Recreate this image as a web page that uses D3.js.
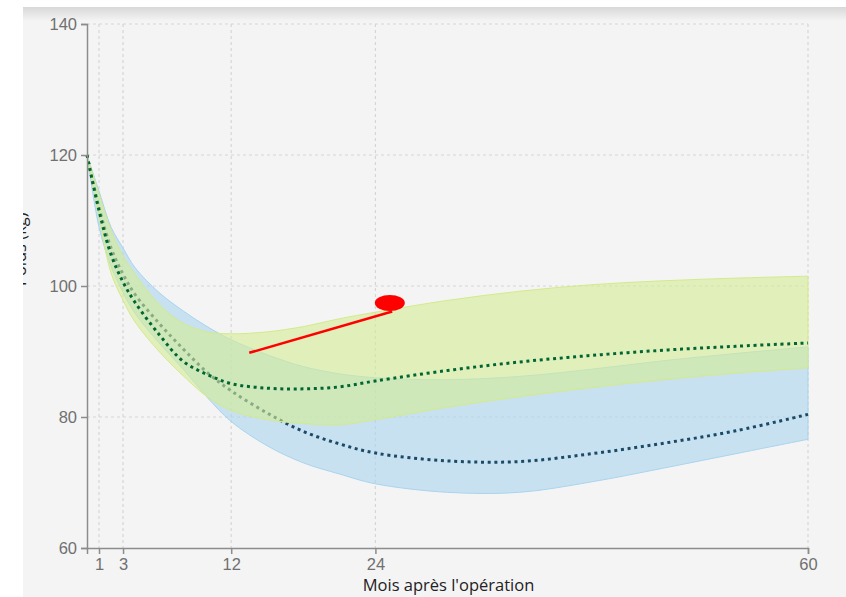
<!DOCTYPE html>
<html>
<head>
<meta charset="utf-8">
<script src="https://cdn.jsdelivr.net/npm/d3@7"></script>
<style>
  body { margin: 0; background: #fff; }
  svg { display: block; font-family: "Open Sans", "Noto Sans", sans-serif; }
  .tick text { fill: #707070; font-size: 16.5px; }
  .axis path, .axis line { stroke: #8c8c8c; stroke-width: 1.5; }
  .grid line { stroke: #d6d6d6; stroke-width: 1.2; stroke-dasharray: 3,3; }
  .axis-label { fill: #222; font-size: 16.5px; }
</style>
</head>
<body>
<svg id="chart"></svg>
<script>
// months after surgery
const months = [0, 1, 2, 3, 4, 6, 8, 10, 12, 15, 18, 21, 24, 30, 36, 42, 48, 54, 60];

// green band (expected range) and its median
const greenUpper  = [120, 114, 108.5, 104.6, 101.8, 97.2, 94.3, 93.0, 92.7, 93.0, 93.8, 95.0, 96.0, 97.8, 99.2, 100.2, 100.8, 101.2, 101.5];
const greenMedian = [120, 111.5, 104.8, 100.6, 97.5, 92.6, 88.5, 86.5, 85.1, 84.4, 84.3, 84.6, 85.5, 87.1, 88.4, 89.4, 90.2, 90.8, 91.3];
const greenLower  = [120, 110.5, 102, 97.8, 94.5, 90.0, 86.3, 83.1, 81.0, 79.6, 79.0, 78.8, 79.6, 81.5, 83.1, 84.5, 85.7, 86.7, 87.5];

// blue band and its median
const blueUpper  = [120, 114.5, 109, 105.8, 102.8, 99.0, 96.2, 93.8, 91.8, 89.5, 87.7, 86.6, 86.0, 85.7, 86.2, 87.3, 88.6, 89.7, 90.7];
const blueMedian = [120, 112, 105.8, 101.8, 98.7, 94.3, 90.4, 86.8, 84.0, 80.6, 77.8, 75.9, 74.5, 73.3, 73.2, 74.4, 76.0, 77.9, 80.4];
const blueLower  = [120, 109, 103, 99, 95.8, 91.3, 87.3, 83.0, 79.3, 75.6, 73.0, 71.3, 69.8, 68.5, 68.5, 70.1, 72.2, 74.4, 76.6];

// patient track
const patientMonths = [13.5, 25.4];
const patientWeights = [89.8, 96.1];
const lastVisit = { month: 25.2, weight: 97.4 };

const xTicks = [1, 3, 12, 24, 60];
const yTicks = [60, 80, 100, 120, 140];

class WeightChart {

  constructor(_config) {
    this.config = {
      parentElement: _config.parentElement,
      containerWidth: 846,
      containerHeight: 597,
      margin: { top: 24, bottom: 49, right: 38, left: 87 }
    };
    this.initVis();
  }

  initVis() {
    let vis = this;

    vis.width = vis.config.containerWidth - vis.config.margin.left - vis.config.margin.right;
    vis.height = vis.config.containerHeight - vis.config.margin.top - vis.config.margin.bottom;

    vis.svg = d3.select(vis.config.parentElement)
        .attr('width', vis.config.containerWidth)
        .attr('height', vis.config.containerHeight);

    // grey panel with a soft shadow on top
    const defs = vis.svg.append('defs');
    const grad = defs.append('linearGradient')
        .attr('id', 'topShade')
        .attr('x1', 0).attr('x2', 0).attr('y1', 0).attr('y2', 1);
    grad.append('stop').attr('offset', '0%').attr('stop-color', '#d8d8d8');
    grad.append('stop').attr('offset', '100%').attr('stop-color', '#f4f4f4');

    defs.append('clipPath').attr('id', 'panelClip')
      .append('rect')
        .attr('x', 23).attr('y', 7)
        .attr('width', vis.config.containerWidth - 23)
        .attr('height', vis.config.containerHeight - 7);

    vis.svg.append('rect')
        .attr('x', 23).attr('y', 7)
        .attr('width', vis.config.containerWidth - 23)
        .attr('height', vis.config.containerHeight - 7)
        .attr('fill', '#f4f4f4');
    vis.svg.append('rect')
        .attr('x', 23).attr('y', 7)
        .attr('width', vis.config.containerWidth - 23)
        .attr('height', 14)
        .attr('fill', 'url(#topShade)');

    vis.chart = vis.svg.append('g')
        .attr('transform', `translate(${vis.config.margin.left},${vis.config.margin.top})`);

    vis.xScale = d3.scaleLinear()
        .domain([0, 60])
        .range([0, vis.width]);

    vis.yScale = d3.scaleLinear()
        .domain([60, 140])
        .range([vis.height, 0]);

    vis.gridG = vis.chart.append('g').attr('class', 'grid');
    vis.marksG = vis.chart.append('g');

    vis.xAxis = d3.axisBottom(vis.xScale).tickValues(xTicks).tickSizeOuter(0).tickSize(6).tickPadding(4);
    vis.yAxis = d3.axisLeft(vis.yScale).tickValues(yTicks).tickSizeOuter(0).tickSize(6).tickPadding(4);

    vis.xAxisG = vis.chart.append('g')
        .attr('class', 'axis x-axis')
        .attr('transform', `translate(0,${vis.height})`);
    vis.yAxisG = vis.chart.append('g')
        .attr('class', 'axis y-axis');

    vis.chart.append('text')
        .attr('class', 'axis-label')
        .attr('x', vis.width / 2 + 1)
        .attr('y', vis.height + 43)
        .style('text-anchor', 'middle')
        .text("Mois après l'opération");

    // y label is mostly hidden behind the panel edge
    vis.svg.append('g')
        .attr('clip-path', 'url(#panelClip)')
      .append('text')
        .attr('class', 'axis-label')
        .attr('transform', `translate(26,${vis.config.margin.top + vis.height / 2}) rotate(-90)`)
        .style('text-anchor', 'start')
        .text('Poids (kg)');

    vis.updateVis();
  }

  updateVis() {
    let vis = this;

    vis.green = months.map((m, i) => ({ m: m, lo: greenLower[i], mid: greenMedian[i], hi: greenUpper[i] }));
    vis.blue = months.map((m, i) => ({ m: m, lo: blueLower[i], mid: blueMedian[i], hi: blueUpper[i] }));
    vis.track = patientMonths.map((m, i) => ({ m: m, w: patientWeights[i] }));

    vis.renderVis();
  }

  renderVis() {
    let vis = this;

    vis.gridG.selectAll('.vgrid')
        .data(xTicks)
      .join('line')
        .attr('class', 'vgrid')
        .attr('x1', d => vis.xScale(d)).attr('x2', d => vis.xScale(d))
        .attr('y1', 0).attr('y2', vis.height);

    vis.gridG.selectAll('.hgrid')
        .data(yTicks.slice(1))
      .join('line')
        .attr('class', 'hgrid')
        .attr('x1', 0).attr('x2', vis.width)
        .attr('y1', d => vis.yScale(d)).attr('y2', d => vis.yScale(d));

    const smooth = d3.curveCatmullRom.alpha(0.5);

    const area = d3.area()
        .x(d => vis.xScale(d.m))
        .y0(d => vis.yScale(d.lo))
        .y1(d => vis.yScale(d.hi))
        .curve(smooth);

    const midLine = d3.line()
        .x(d => vis.xScale(d.m))
        .y(d => vis.yScale(d.mid))
        .curve(smooth);

    // blue band first, the green band sits over it
    vis.marksG.append('path')
        .datum(vis.blue)
        .attr('d', area)
        .attr('fill', '#a9d4ef')
        .attr('fill-opacity', 0.6)
        .attr('stroke', '#a9d4ef')
        .attr('stroke-width', 1);

    vis.marksG.append('path')
        .datum(vis.blue)
        .attr('d', midLine)
        .attr('fill', 'none')
        .attr('stroke', '#1b4a66')
        .attr('stroke-width', 3)
        .attr('stroke-dasharray', '3,3.7');

    vis.marksG.append('path')
        .datum(vis.green)
        .attr('d', area)
        .attr('fill', '#d4ec95')
        .attr('fill-opacity', 0.6)
        .attr('stroke', '#d4ea8c')
        .attr('stroke-width', 1);

    vis.marksG.append('path')
        .datum(vis.green)
        .attr('d', midLine)
        .attr('fill', 'none')
        .attr('stroke', '#006633')
        .attr('stroke-width', 3)
        .attr('stroke-dasharray', '3,3.7');

    vis.marksG.append('path')
        .datum(vis.track)
        .attr('d', d3.line().x(d => vis.xScale(d.m)).y(d => vis.yScale(d.w)))
        .attr('fill', 'none')
        .attr('stroke', '#ff0000')
        .attr('stroke-width', 2.5);

    vis.marksG.append('ellipse')
        .attr('cx', vis.xScale(lastVisit.month))
        .attr('cy', vis.yScale(lastVisit.weight))
        .attr('rx', 15)
        .attr('ry', 8)
        .attr('fill', '#ff0000');

    vis.xAxisG.call(vis.xAxis);
    vis.yAxisG.call(vis.yAxis);
  }
}

new WeightChart({ parentElement: '#chart' });
</script>
</body>
</html>
